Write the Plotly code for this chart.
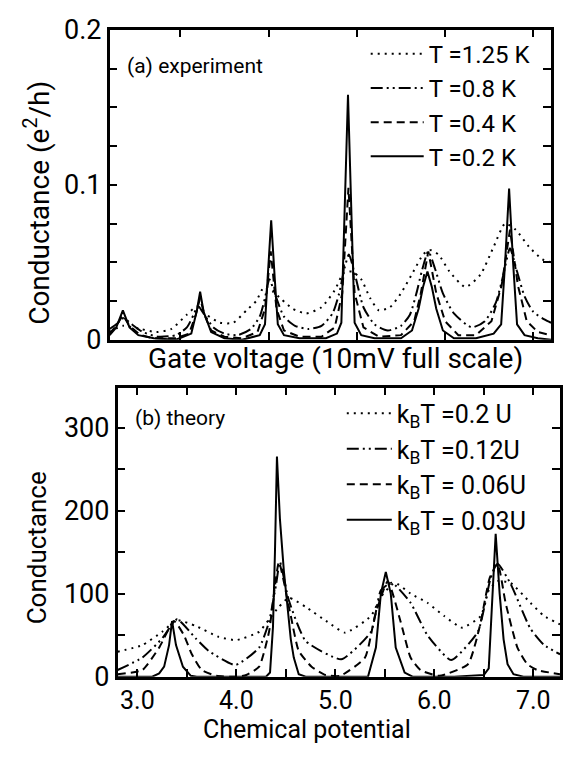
import plotly.graph_objects as go

# ---------------- (a) experiment: gate voltage (mV, 10 mV full scale) vs conductance (e^2/h)
a_x_125 = [0.0, 0.3, 0.7, 1.06, 1.4, 1.74, 1.96, 2.2, 2.5, 2.8, 3.1, 3.32, 3.5, 3.7, 3.9, 4.15, 4.45, 4.8, 5.1,
           5.3, 5.5, 5.7, 5.9, 6.1, 6.35, 6.6, 6.9, 7.1, 7.25, 7.45, 7.7, 8.06, 8.4, 8.7, 8.96, 9.2, 9.5, 9.8, 10.0]
a_y_125 = [0.005, 0.009, 0.007, 0.005, 0.007, 0.016, 0.021, 0.016, 0.011, 0.011, 0.019, 0.025, 0.034, 0.031, 0.026,
           0.020, 0.017, 0.021, 0.032, 0.043, 0.044, 0.039, 0.027, 0.019, 0.021, 0.030, 0.045, 0.055, 0.058, 0.055,
           0.044, 0.034, 0.042, 0.060, 0.075, 0.071, 0.060, 0.052, 0.050]

a_x_08 = [0.0, 0.15, 0.32, 0.5, 0.75, 1.1, 1.5, 1.75, 1.9, 2.0, 2.15, 2.35, 2.6, 2.9, 3.2, 3.4, 3.52, 3.62, 3.75,
          3.95, 4.2, 4.5, 4.8, 5.05, 5.2, 5.32, 5.42, 5.55, 5.75, 6.0, 6.3, 6.6, 6.8, 6.95, 7.07, 7.22, 7.37, 7.55,
          7.8, 8.2, 8.5, 8.75, 8.92, 9.07, 9.22, 9.4, 9.6, 9.86, 10.0]
a_y_08 = [0.007, 0.010, 0.014, 0.010, 0.005, 0.002, 0.003, 0.008, 0.016, 0.022, 0.016, 0.008, 0.004, 0.003, 0.007,
          0.015, 0.027, 0.039, 0.029, 0.015, 0.009, 0.007, 0.009, 0.017, 0.030, 0.046, 0.055, 0.043, 0.021, 0.010,
          0.006, 0.009, 0.016, 0.030, 0.044, 0.057, 0.046, 0.030, 0.017, 0.008, 0.012, 0.024, 0.042, 0.059, 0.045,
          0.028, 0.018, 0.013, 0.011]

a_x_04 = [0.0, 0.15, 0.3, 0.45, 0.7, 1.0, 1.5, 1.8, 1.95, 2.05, 2.15, 2.3, 2.6, 3.0, 3.35, 3.52, 3.65, 3.78, 3.95,
          4.3, 4.8, 5.1, 5.27, 5.41, 5.55, 5.75, 6.1, 6.6, 6.9, 7.05, 7.22, 7.4, 7.6, 7.9, 8.3, 8.65, 8.88, 9.07,
          9.25, 9.45, 9.7, 10.0]
a_y_04 = [0.004, 0.009, 0.016, 0.009, 0.003, 0.001, 0.001, 0.004, 0.016, 0.027, 0.016, 0.006, 0.002, 0.001, 0.005,
          0.020, 0.057, 0.020, 0.006, 0.002, 0.002, 0.008, 0.030, 0.098, 0.030, 0.008, 0.002, 0.003, 0.012, 0.030,
          0.057, 0.030, 0.012, 0.003, 0.003, 0.012, 0.035, 0.071, 0.035, 0.012, 0.005, 0.003]

a_x_02 = [0.0, 0.15, 0.3, 0.45, 0.65, 1.0, 1.5, 1.85, 1.97, 2.05, 2.13, 2.3, 2.6, 3.0, 3.4, 3.52, 3.58, 3.66, 3.74,
          3.81, 3.95, 4.3, 4.9, 5.15, 5.25, 5.32, 5.40, 5.48, 5.55, 5.7, 6.0, 6.6, 6.85, 7.0, 7.1, 7.2, 7.3, 7.4,
          7.55, 7.8, 8.3, 8.7, 8.87, 8.96, 9.05, 9.14, 9.23, 9.4, 9.7, 10.0]
a_y_02 = [0.003, 0.008, 0.019, 0.008, 0.003, 0.001, 0.000, 0.004, 0.018, 0.031, 0.018, 0.005, 0.001, 0.000, 0.003,
          0.010, 0.040, 0.077, 0.040, 0.010, 0.003, 0.001, 0.001, 0.004, 0.011, 0.079, 0.158, 0.079, 0.011, 0.003,
          0.001, 0.001, 0.006, 0.020, 0.034, 0.044, 0.034, 0.020, 0.006, 0.001, 0.001, 0.004, 0.010, 0.050, 0.0975,
          0.050, 0.010, 0.003, 0.001, 0.000]

a_names = ["T =1.25 K", "T =0.8 K", "T =0.4 K", "T =0.2 K"]
a_ticks = [1.6, 3.6, 5.6, 7.6, 9.6]

# ---------------- (b) theory: chemical potential vs conductance
b_x_020 = [2.8, 3.05, 3.25, 3.40, 3.59, 3.82, 4.0, 4.23, 4.33, 4.43, 4.53, 4.7, 4.92, 5.1, 5.36, 5.46, 5.6, 5.76,
           5.93, 6.1, 6.28, 6.47, 6.55, 6.64, 6.77, 6.97, 7.11, 7.27]
b_y_020 = [30, 38, 54, 68, 61, 48, 44, 54, 69, 84, 95, 84, 66, 53, 73, 96, 113, 100, 89, 73, 59, 73, 104, 115, 113,
           89, 73, 63]

b_x_012 = [2.8, 3.05, 3.25, 3.40, 3.59, 3.72, 3.99, 4.23, 4.33, 4.40, 4.44, 4.53, 4.70, 5.06, 5.36, 5.46, 5.57, 5.76,
           5.93, 6.17, 6.44, 6.57, 6.64, 6.77, 6.97, 7.11, 7.27]
b_y_012 = [8, 23, 46, 69, 46, 31, 14, 35, 66, 110, 138, 92, 43, 21, 54, 104, 113, 89, 50, 20, 54, 119, 136, 112, 58,
           38, 27]

b_x_006 = [2.8, 3.05, 3.22, 3.37, 3.47, 3.55, 3.65, 3.8, 4.0, 4.1, 4.23, 4.33, 4.38, 4.43, 4.55, 4.63, 4.76, 4.9,
           5.05, 5.30, 5.40, 5.53, 5.66, 5.76, 5.86, 6.05, 6.34, 6.46, 6.56, 6.64, 6.72, 6.84, 6.94, 7.04, 7.27]
b_y_006 = [3, 8, 35, 67, 50, 27, 8, 1, 0, 2, 12, 54, 100, 138, 73, 31, 12, 2, 1, 23, 73, 115, 66, 23, 8, 1, 15, 61,
           119, 136, 89, 35, 15, 8, 3]

b_x_003 = [2.8, 3.1, 3.15, 3.22, 3.27, 3.32, 3.35, 3.39, 3.46, 3.54, 3.6, 4.0, 4.30, 4.34, 4.37, 4.39, 4.41, 4.44,
           4.48, 4.51, 4.55, 4.58, 4.63, 4.7, 5.2, 5.33, 5.41, 5.46, 5.51, 5.56, 5.61, 5.70, 5.78, 6.2, 6.5, 6.55,
           6.58, 6.62, 6.66, 6.70, 6.74, 6.8, 6.9, 7.27]
b_y_003 = [0, 0, 0, 4, 12, 38, 67, 38, 12, 1, 0, 0, 0, 5, 60, 150, 265, 190, 127, 92, 45, 23, 3, 0, 0, 0, 35, 100,
           126, 100, 35, 5, 0, 0, 2, 10, 80, 172, 100, 45, 15, 3, 0, 0]

b_names = ["k<sub>B</sub>T =0.2 U", "k<sub>B</sub>T =0.12U", "k<sub>B</sub>T = 0.06U", "k<sub>B</sub>T = 0.03U"]

dashes = ["2px,5px", "12px,4px,2px,4px,2px,4px", "8px,5px", "solid"]
shapes_a = ["spline", "spline", "linear", "linear"]
shapes_b = ["spline", "spline", "spline", "linear"]
FONT = "Roboto"

# page has an 8px body margin around the plot div
OX, OY = 8, 8
W, H = 555, 744


def px2fx(px):
    return (px - OX) / W


def py2fy(py):
    return 1 - (py - OY) / H


fig = go.Figure()
a_sets = [(a_x_125, a_y_125), (a_x_08, a_y_08), (a_x_04, a_y_04), (a_x_02, a_y_02)]
b_sets = [(b_x_020, b_y_020), (b_x_012, b_y_012), (b_x_006, b_y_006), (b_x_003, b_y_003)]
for (xs, ys), nm, d, sh in zip(a_sets, a_names, dashes, shapes_a):
    fig.add_trace(go.Scatter(x=xs, y=ys, mode="lines", name=nm, xaxis="x", yaxis="y", legend="legend",
                             line=dict(color="black", width=2, dash=d, shape=sh, smoothing=0.6)))
for (xs, ys), nm, d, sh in zip(b_sets, b_names, dashes, shapes_b):
    fig.add_trace(go.Scatter(x=xs, y=ys, mode="lines", name=nm, xaxis="x2", yaxis="y2", legend="legend2",
                             line=dict(color="black", width=2, dash=d, shape=sh, smoothing=0.5)))

axis_common = dict(showgrid=False, zeroline=False, showline=True, linecolor="black", linewidth=2.5,
                   mirror="ticks", ticks="inside", tickcolor="black", tickwidth=2, ticklen=8,
                   ticklabeloverflow="allow")
minor_common = dict(ticks="inside", ticklen=8, tickwidth=2, tickcolor="black", showgrid=False)
tick_font = dict(family=FONT, size=27, color="black")

fig.update_layout(
    width=W, height=H, margin=dict(l=0, r=0, t=0, b=0),
    paper_bgcolor="white", plot_bgcolor="white", showlegend=True,
    xaxis=dict(domain=[px2fx(110), px2fx(553)], range=[0, 10], anchor="y",
               tickvals=a_ticks, showticklabels=False, tickfont=tick_font, **axis_common),
    yaxis=dict(domain=[py2fy(338), py2fy(14)], range=[0, 0.2], anchor="x", tickfont=tick_font,
               tick0=0, dtick=0.1, minor=dict(dtick=0.025, **minor_common), **axis_common),
    xaxis2=dict(domain=[px2fx(118), px2fx(562)], range=[2.8, 7.27], anchor="y2",
                tickfont=dict(family=FONT, size=25, color="black"),
                tick0=3, dtick=1, tickformat=".1f", minor=dict(tick0=3, dtick=0.5, **minor_common),
                **axis_common),
    yaxis2=dict(domain=[py2fy(690), py2fy(388)], range=[0, 348], anchor="x2", tickfont=tick_font,
                tick0=0, dtick=100, minor=dict(dtick=50, **minor_common), **axis_common),
    legend=dict(x=px2fx(367), y=py2fy(16), xanchor="left", yanchor="top", bgcolor="rgba(0,0,0,0)",
                font=dict(family=FONT, size=24, color="black"), itemwidth=53, tracegroupgap=0),
    legend2=dict(x=px2fx(343), y=py2fy(391), xanchor="left", yanchor="top", bgcolor="rgba(0,0,0,0)",
                 font=dict(family=FONT, size=25, color="black"), itemwidth=45, tracegroupgap=0),
    annotations=[
        dict(text="(a) experiment", x=px2fx(125), y=py2fy(52), xref="paper", yref="paper",
             xanchor="left", yanchor="middle", showarrow=False, font=dict(family=FONT, size=21, color="black")),
        dict(text="(b) theory", x=px2fx(133), y=py2fy(420), xref="paper", yref="paper",
             xanchor="left", yanchor="middle", showarrow=False, font=dict(family=FONT, size=21, color="black")),
        dict(text="Gate voltage (10mV full scale)", x=px2fx(337), y=py2fy(358), xref="paper", yref="paper",
             xanchor="center", yanchor="middle", showarrow=False, font=dict(family=FONT, size=28, color="black")),
        dict(text="Chemical potential", x=px2fx(308), y=py2fy(745), xref="paper", yref="paper",
             xanchor="center", yanchor="middle", showarrow=False, font=dict(family=FONT, size=25, color="black")),
        dict(text="Conductance (e<sup>2</sup>/h)", x=px2fx(38), y=py2fy(195), xref="paper", yref="paper",
             xanchor="center", yanchor="middle", textangle=-90, showarrow=False,
             font=dict(family=FONT, size=28, color="black")),
        dict(text="Conductance", x=px2fx(38), y=py2fy(555), xref="paper", yref="paper",
             xanchor="center", yanchor="middle", textangle=-90, showarrow=False,
             font=dict(family=FONT, size=26, color="black")),
    ],
)

fig.write_html("out.html")
